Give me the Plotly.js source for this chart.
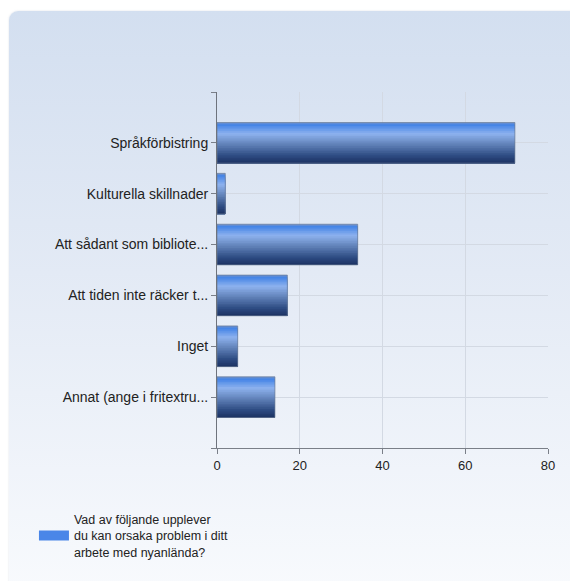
<!DOCTYPE html>
<html>
<head>
<meta charset="utf-8">
<script src="https://cdn.plot.ly/plotly-3.0.1.min.js"></script>
<style>
  html, body { margin: 0; padding: 0; background: #ffffff; width: 570px; height: 581px; overflow: hidden; }
  #panel {
    position: absolute; left: 9px; top: 11px; width: 575px; height: 580px;
    border-radius: 9px;
    background: linear-gradient(to bottom, #d3dff0 0%, #e3eaf5 45%, #f8fafd 100%);
    box-shadow: 0 0 2px rgba(150,160,180,0.35);
  }
  #chart { position: absolute; left: 0; top: 0; width: 570px; height: 581px; }
</style>
</head>
<body>
<div id="panel"></div>
<div id="chart"></div>
<script>
// ---- data ----
const categories = [
  "Språkförbistring",
  "Kulturella skillnader",
  "Att sådant som bibliote...",
  "Att tiden inte räcker t...",
  "Inget",
  "Annat (ange i fritextru..."
];
const values = [72, 2, 34, 17, 5, 14];
const seriesName = "Vad av följande upplever<br>du kan orsaka problem i ditt<br>arbete med nyanlända?";
const xTicks = [0, 20, 40, 60, 80];

// ---- styling helpers ----
const positions = categories.map((c, i) => i);
const gradStops = [
  [0.00, [110, 145, 205]],
  [0.06, [68, 132, 230]],
  [0.28, [142, 178, 238]],
  [0.55, [95, 128, 182]],
  [0.82, [45, 75, 130]],
  [1.00, [28, 50, 98]]
];
function colorAt(t) {
  for (let k = 0; k < gradStops.length - 1; k++) {
    const [t0, c0] = gradStops[k], [t1, c1] = gradStops[k + 1];
    if (t >= t0 && t <= t1) {
      const f = (t - t0) / (t1 - t0);
      const c = c0.map((v, j) => Math.round(v + (c1[j] - v) * f));
      return `rgb(${c[0]},${c[1]},${c[2]})`;
    }
  }
  return 'rgb(28,50,98)';
}

const barWidth = 0.8;
const nStrips = 24;
const stripW = barWidth / nStrips;
const traces = [];
for (let s = 0; s < nStrips; s++) {
  const start = -barWidth / 2 + s * stripW;
  traces.push({
    type: 'bar',
    orientation: 'h',
    x: values,
    y: positions,
    width: barWidth / 2 - start,
    offset: start,
    marker: { color: colorAt((s + 0.5) / nStrips), line: { width: 0 } },
    showlegend: false,
    hoverinfo: 'skip'
  });
}
// outline
traces.push({
  type: 'bar',
  orientation: 'h',
  x: values,
  y: positions,
  width: barWidth,
  name: 'outline',
  marker: { color: 'rgba(0,0,0,0)', line: { color: 'rgba(110,125,150,0.7)', width: 1 } },
  showlegend: false,
  hovertemplate: '%{x}<extra></extra>'
});
// legend entry (wide swatch)
traces.push({
  type: 'scatter',
  mode: 'lines',
  x: [null],
  y: [null],
  name: seriesName,
  line: { color: '#4a86e8', width: 12 },
  showlegend: true,
  hoverinfo: 'skip'
});

const fontFam = '"Liberation Sans", Arial, sans-serif';
const layout = {
  width: 570,
  height: 581,
  margin: { l: 217, r: 22, t: 92, b: 133 },
  paper_bgcolor: 'rgba(0,0,0,0)',
  plot_bgcolor: 'rgba(0,0,0,0)',
  barmode: 'overlay',
  font: { family: fontFam, size: 12, color: '#222222' },
  xaxis: {
    range: [0, 80],
    tickvals: xTicks,
    ticktext: xTicks.map(String),
    showgrid: true,
    gridcolor: '#d3d9e3',
    gridwidth: 1,
    zeroline: false,
    showline: true,
    linecolor: '#7a7f88',
    linewidth: 1,
    ticks: 'outside',
    ticklen: 5,
    tickcolor: '#7a7f88',
    tickfont: { family: fontFam, size: 13, color: '#222222' },
    fixedrange: true
  },
  yaxis: {
    range: [categories.length, -1],
    tickvals: [-1].concat(positions, [categories.length]),
    ticktext: [''].concat(categories, ['']),
    showgrid: true,
    gridcolor: '#d3d9e3',
    gridwidth: 1,
    zeroline: false,
    showline: true,
    linecolor: '#6e737c',
    linewidth: 1,
    ticks: 'outside',
    ticklen: 5,
    tickcolor: '#7a7f88',
    tickfont: { family: fontFam, size: 14, color: '#222222' },
    fixedrange: true
  },
  showlegend: true,
  legend: {
    x: -0.553,
    xanchor: 'left',
    y: -0.159,
    yanchor: 'top',
    bgcolor: 'rgba(0,0,0,0)',
    font: { family: fontFam, size: 12.5, color: '#222222' }
  }
};

Plotly.newPlot('chart', traces, layout, { displayModeBar: false, staticPlot: true });
</script>
</body>
</html>
